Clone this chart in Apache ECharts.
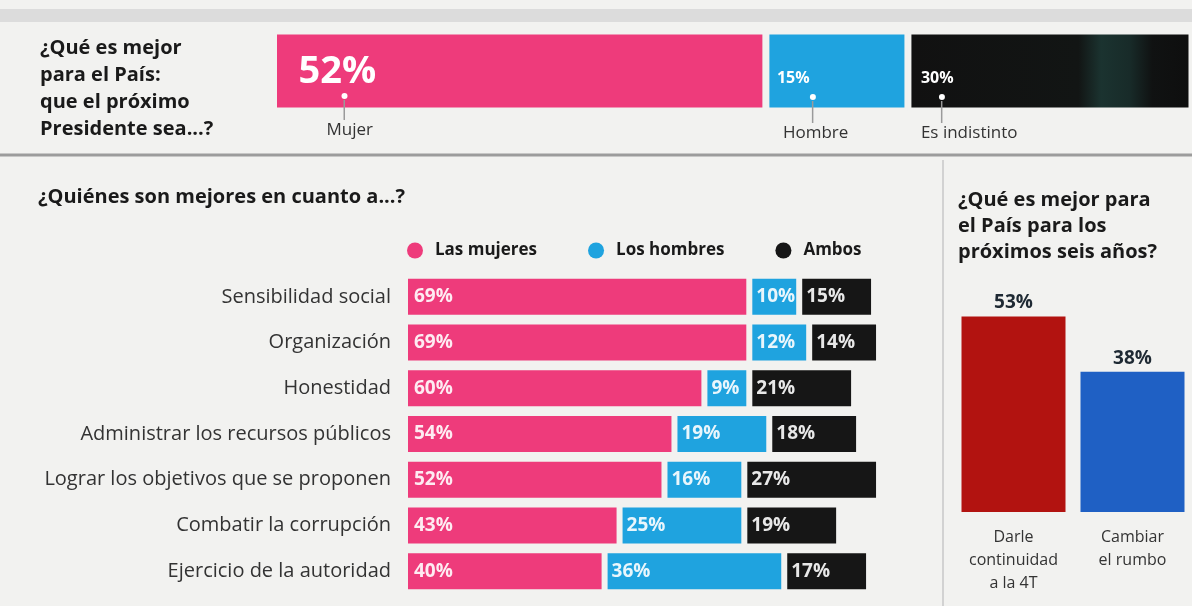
<!DOCTYPE html>
<html lang="es">
<head>
    <meta charset="UTF-8">
    <title>¿Qué es mejor para el País?</title>
    <script src="https://cdn.jsdelivr.net/npm/echarts@6/dist/echarts.min.js"></script>
    <style>
        html, body { margin: 0; padding: 0; background: #f2f2f0; }
        #container { width: 1192px; height: 606px; }
    </style>
</head>
<body>
<div id="container"></div>
<script type="text/javascript">
    // pregunta 1: que el próximo Presidente sea...
    let topNames = ['Mujer', 'Hombre', 'Es indistinto'];
    let topValues = [52, 15, 30];

    // pregunta 2: ¿Quiénes son mejores en cuanto a...?
    let categories = ['Sensibilidad social', 'Organización', 'Honestidad',
        'Administrar los recursos públicos', 'Lograr los objetivos que se proponen',
        'Combatir la corrupción', 'Ejercicio de la autoridad'];
    let legendNames = ['Las mujeres', 'Los hombres', 'Ambos'];
    let mujeres = [69, 69, 60, 54, 52, 43, 40];
    let hombres = [10, 12, 9, 19, 16, 25, 36];
    let ambos = [15, 14, 21, 18, 27, 19, 17];

    // pregunta 3: próximos seis años
    let rumboCats = ['Darle\ncontinuidad\na la 4T', 'Cambiar\nel rumbo'];
    let rumboValues = [53, 38];

    let bg = '#f2f2f0';
    let font = 'Open Sans';
    let topColors = ['#ee3b7b', '#1fa3df',
        new echarts.graphic.LinearGradient(0, 0, 1, 0, [
            {offset: 0, color: '#111111'}, {offset: 0.6, color: '#121514'},
            {offset: 0.68, color: '#1b3330'}, {offset: 0.78, color: '#182b29'},
            {offset: 0.86, color: '#101212'}, {offset: 1, color: '#0e0e0e'}
        ])];
    let barColors = ['#ee3b7b', '#1fa3df', '#161616'];

    // posiciones de las etiquetas de la barra superior
    let topLabel = [
        {x: 25, y: 21, size: 38, lh: 40, dot: 43, name: 28, line: 20},
        {x: 11, y: 32, size: 16, lh: 30, dot: 33, name: 6, line: 22},
        {x: 13, y: 32, size: 16, lh: 30, dot: 18, name: 0, line: 22}
    ];

    let dom = document.getElementById('container');
    let myChart = echarts.init(dom);

    let series = [];

    // barra superior
    topValues.forEach(function (v, i) {
        let p = topLabel[i];
        let rich = {
            v: {fontSize: p.size, fontWeight: 'bold', color: '#fff', lineHeight: p.lh, fontFamily: font},
            s1: {width: p.dot, fontSize: 1, lineHeight: 8},
            d: {width: 6, height: 6, backgroundColor: '#fff', borderRadius: 3, fontSize: 1, lineHeight: 8},
            s2: {width: p.dot + 2, fontSize: 1, lineHeight: p.line},
            l: {width: 1.5, height: p.line, backgroundColor: '#9a9a9a', fontSize: 1, lineHeight: p.line},
            s3: {width: p.name, fontSize: 1, lineHeight: 20},
            n: {fontSize: 17, color: '#333', lineHeight: 20, fontFamily: font}
        };
        series.push({
            name: topNames[i],
            type: 'bar',
            stack: 'top',
            xAxisIndex: 0,
            yAxisIndex: 0,
            barWidth: 80,
            data: [v],
            itemStyle: {color: topColors[i], borderColor: bg, borderWidth: 3.5},
            label: {
                show: true,
                position: [p.x, p.y],
                align: 'left',
                verticalAlign: 'top',
                formatter: function () {
                    return '{v|' + v + '%}\n{s1| }{d| }\n{s2| }{l| }\n' +
                        (p.name > 0 ? '{s3| }' : '') + '{n|' + topNames[i] + '}';
                },
                rich: rich
            },
            silent: true
        });
    });

    // barras horizontales
    [mujeres, hombres, ambos].forEach(function (arr, i) {
        series.push({
            name: legendNames[i],
            type: 'bar',
            stack: 'quien',
            xAxisIndex: 1,
            yAxisIndex: 1,
            barWidth: 42,
            data: arr,
            itemStyle: {color: barColors[i], borderColor: bg, borderWidth: 3},
            label: {
                show: true,
                position: 'insideLeft',
                distance: i === 0 ? 9 : 7,
                formatter: '{c}%',
                color: 'rgba(255,255,255,0.9)',
                fontSize: 19,
                fontWeight: 'bold',
                fontFamily: font
            }
        });
    });

    // barras verticales
    series.push({
        name: 'rumbo',
        type: 'bar',
        xAxisIndex: 2,
        yAxisIndex: 2,
        barWidth: 104,
        data: rumboValues.map(function (v, i) {
            return {value: v, itemStyle: {color: i === 0 ? '#b21310' : '#1f60c4'}};
        }),
        label: {
            show: true,
            position: 'top',
            distance: 4,
            formatter: '{c}%',
            color: '#1e2933',
            fontSize: 19,
            fontWeight: 'bold',
            fontFamily: font
        }
    });

    let option = {
        backgroundColor: bg,
        animation: false,
        textStyle: {fontFamily: font},
        title: [
            {
                text: '¿Qué es mejor\npara el País:\nque el próximo\nPresidente sea...?',
                left: 40, top: 35, padding: 0,
                textStyle: {fontSize: 20, fontWeight: 'bold', color: '#1a1a1a', lineHeight: 27, fontFamily: font}
            },
            {
                text: '¿Quiénes son mejores en cuanto a...?',
                left: 38, top: 184, padding: 0,
                textStyle: {fontSize: 20, fontWeight: 'bold', color: '#1a1a1a', lineHeight: 27, fontFamily: font}
            },
            {
                text: '¿Qué es mejor para\nel País para los\npróximos seis años?',
                left: 958, top: 187, padding: 0,
                textStyle: {fontSize: 20, fontWeight: 'bold', color: '#1a1a1a', lineHeight: 26, fontFamily: font}
            }
        ],
        legend: {
            data: legendNames,
            left: 407,
            top: 242,
            padding: 0,
            icon: 'circle',
            itemWidth: 16,
            itemHeight: 16,
            itemGap: 51,
            itemStyle: {borderWidth: 0},
            textStyle: {fontSize: 17, fontWeight: 'bold', color: '#1a1a1a', padding: [0, 0, 0, 7], fontFamily: font},
            selectedMode: false
        },
        grid: [
            {left: 273.5, top: 31, right: 0, height: 80},
            {left: 405, top: 274, width: 499, height: 320},
            {left: 954, top: 143, width: 241, height: 369}
        ],
        xAxis: [
            {gridIndex: 0, type: 'value', min: 0, max: 97, show: false},
            {gridIndex: 1, type: 'value', min: 0, max: 100, show: false},
            {
                gridIndex: 2, type: 'category', data: rumboCats,
                axisLine: {show: false}, axisTick: {show: false},
                axisLabel: {margin: 14, fontSize: 16, lineHeight: 23, color: '#333', fontFamily: font}
            }
        ],
        yAxis: [
            {gridIndex: 0, type: 'category', data: ['top'], show: false},
            {
                gridIndex: 1, type: 'category', data: categories, inverse: true,
                axisLine: {show: false}, axisTick: {show: false},
                axisLabel: {margin: 14, fontSize: 20, color: '#333', fontFamily: font}
            },
            {gridIndex: 2, type: 'value', min: 0, max: 100, show: false}
        ],
        graphic: [
            {type: 'rect', shape: {x: 0, y: 9, width: 1192, height: 13}, style: {fill: '#dcdcdc'}, silent: true},
            {type: 'line', shape: {x1: 0, y1: 155, x2: 1192, y2: 155}, style: {stroke: '#9c9c9c', lineWidth: 3}, silent: true},
            {type: 'line', shape: {x1: 943, y1: 160, x2: 943, y2: 606}, style: {stroke: '#d2d2d2', lineWidth: 2}, silent: true}
        ],
        series: series
    };

    myChart.setOption(option);
</script>
</body>
</html>
